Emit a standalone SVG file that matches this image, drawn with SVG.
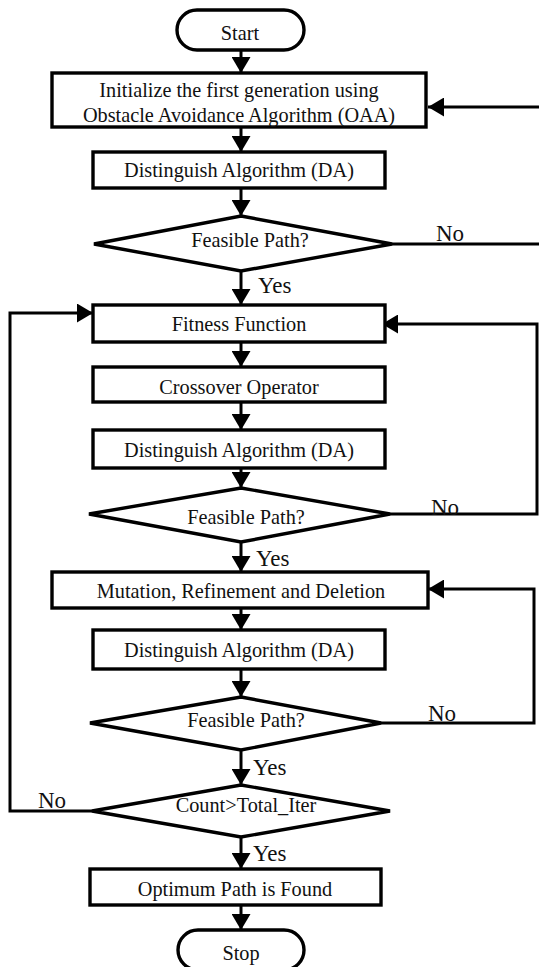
<svg xmlns="http://www.w3.org/2000/svg" width="539" height="967" viewBox="0 0 539 967">
<style>
.shape{fill:#fff;stroke:#000;stroke-width:3.4}
.ln{fill:none;stroke:#000;stroke-width:3}
.t{font-family:"Liberation Serif","Times New Roman",serif;font-size:20.3px;fill:#111;text-anchor:middle}
.lb{font-family:"Liberation Serif","Times New Roman",serif;font-size:23px;fill:#111}
</style>
<defs>
<marker id="ah" markerUnits="userSpaceOnUse" markerWidth="17" markerHeight="19" refX="16" refY="9.5" orient="auto">
<path d="M0,0 L16,9.5 L0,19 z" fill="#000"/>
</marker>
</defs>
<rect width="539" height="967" fill="#fff"/>
<g id="connectors">
<path class="ln" d="M241,50 V73" marker-end="url(#ah)"/>
<path class="ln" d="M241,127 V152" marker-end="url(#ah)"/>
<path class="ln" d="M241,188 V216" marker-end="url(#ah)"/>
<path class="ln" d="M241,271 V305" marker-end="url(#ah)"/>
<path class="ln" d="M241,342 V367" marker-end="url(#ah)"/>
<path class="ln" d="M241,402 V430" marker-end="url(#ah)"/>
<path class="ln" d="M241,468 V488" marker-end="url(#ah)"/>
<path class="ln" d="M241,542 V572" marker-end="url(#ah)"/>
<path class="ln" d="M241,608 V630" marker-end="url(#ah)"/>
<path class="ln" d="M241,669 V697" marker-end="url(#ah)"/>
<path class="ln" d="M241,750 V785" marker-end="url(#ah)"/>
<path class="ln" d="M241,837 V869" marker-end="url(#ah)"/>
<path class="ln" d="M241,905 V930" marker-end="url(#ah)"/>
<path class="ln" d="M392,244 H542 V107 H428" marker-end="url(#ah)"/>
<path class="ln" d="M390,514 H537 V324 H382" marker-end="url(#ah)"/>
<path class="ln" d="M381,723 H534 V589 H428" marker-end="url(#ah)"/>
<path class="ln" d="M92,811 H10 V313 H93" marker-end="url(#ah)"/>
<text class="lb" x="436" y="241">No</text>
<text class="lb" x="258" y="293">Yes</text>
<text class="lb" x="431" y="515">No</text>
<text class="lb" x="256" y="566">Yes</text>
<text class="lb" x="428" y="721">No</text>
<text class="lb" x="253" y="775">Yes</text>
<text class="lb" x="38" y="808">No</text>
<text class="lb" x="253" y="861">Yes</text>
</g>
<g id="start">
<rect class="shape" x="177" y="10" width="127" height="40" rx="20" ry="20"/>
<text class="t" x="240" y="40">Start</text>
</g>
<g id="init">
<rect class="shape" x="52" y="73" width="374" height="54"/>
<text class="t" x="239" y="97">Initialize the first generation using</text>
<text class="t" x="239" y="122">Obstacle Avoidance Algorithm (OAA)</text>
</g>
<g id="da1">
<rect class="shape" x="93" y="152" width="292" height="36"/>
<text class="t" x="239" y="177">Distinguish Algorithm (DA)</text>
</g>
<g id="feasible1">
<polygon class="shape" points="241,216 392,244 241,271 94,244"/>
<text class="t" x="250" y="247">Feasible Path?</text>
</g>
<g id="fitness">
<rect class="shape" x="93" y="305" width="292" height="37"/>
<text class="t" x="239" y="331">Fitness Function</text>
</g>
<g id="crossover">
<rect class="shape" x="93" y="367" width="292" height="35"/>
<text class="t" x="239" y="394">Crossover Operator</text>
</g>
<g id="da2">
<rect class="shape" x="93" y="430" width="292" height="38"/>
<text class="t" x="239" y="457">Distinguish Algorithm (DA)</text>
</g>
<g id="feasible2">
<polygon class="shape" points="241,488 390,514 241,542 89,514"/>
<text class="t" x="246" y="524">Feasible Path?</text>
</g>
<g id="mutation">
<rect class="shape" x="52" y="572" width="376" height="36"/>
<text class="t" x="241" y="598">Mutation, Refinement and Deletion</text>
</g>
<g id="da3">
<rect class="shape" x="93" y="630" width="292" height="39"/>
<text class="t" x="239" y="657">Distinguish Algorithm (DA)</text>
</g>
<g id="feasible3">
<polygon class="shape" points="241,697 381,723 241,750 90,723"/>
<text class="t" x="246" y="727">Feasible Path?</text>
</g>
<g id="count">
<polygon class="shape" points="241,785 390,811 241,837 92,811"/>
<text class="t" x="246" y="812">Count&gt;Total_Iter</text>
</g>
<g id="optimum">
<rect class="shape" x="90" y="869" width="291" height="36"/>
<text class="t" x="235" y="896">Optimum Path is Found</text>
</g>
<g id="stop">
<rect class="shape" x="178" y="930" width="126" height="40" rx="20" ry="20"/>
<text class="t" x="241" y="960">Stop</text>
</g>
</svg>
